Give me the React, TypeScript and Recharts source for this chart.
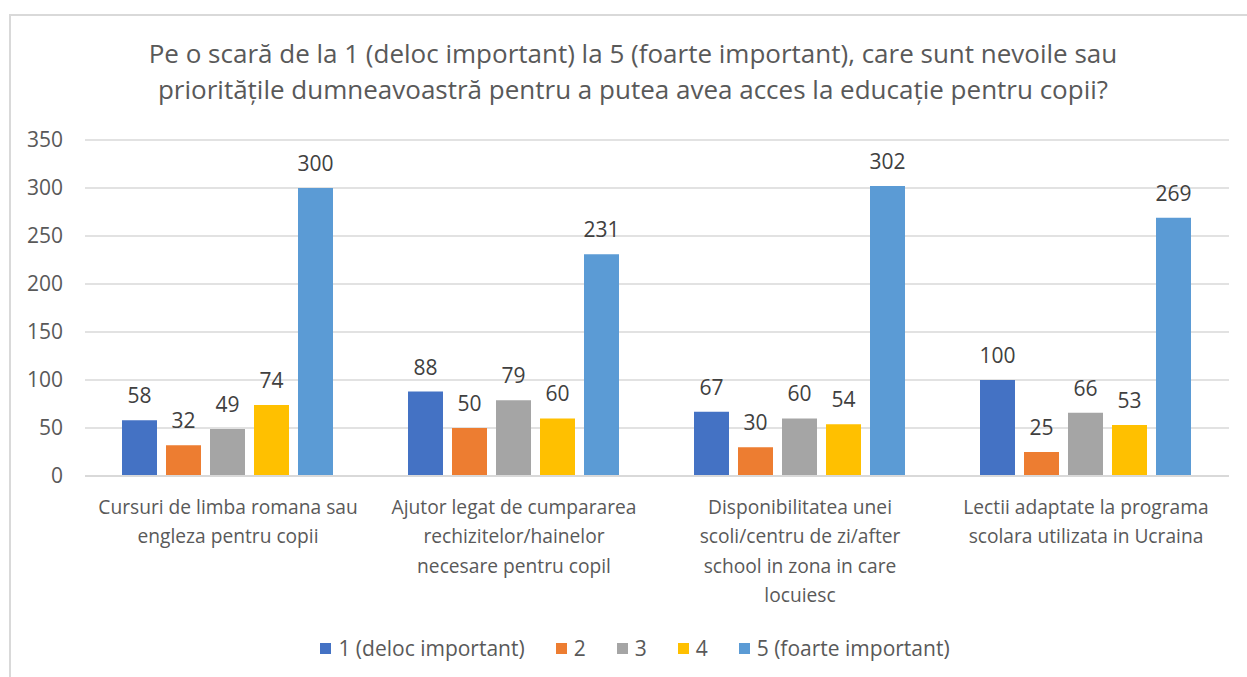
import { Bar, BarChart, CartesianGrid, LabelList, XAxis, YAxis } from 'recharts';

const categories = [
  'Cursuri de limba romana sau engleza pentru copii',
  'Ajutor legat de cumpararea rechizitelor/hainelor necesare pentru copil',
  'Disponibilitatea unei scoli/centru de zi/after school in zona in care locuiesc',
  'Lectii adaptate la programa scolara utilizata in Ucraina',
];
const categoryLines = [
  ['Cursuri de limba romana sau', 'engleza pentru copii'],
  ['Ajutor legat de cumpararea', 'rechizitelor/hainelor', 'necesare pentru copil'],
  ['Disponibilitatea unei', 'scoli/centru de zi/after', 'school in zona in care', 'locuiesc'],
  ['Lectii adaptate la programa', 'scolara utilizata in Ucraina'],
];
const seriesNames = ['1 (deloc important)', '2', '3', '4', '5 (foarte important)'];
const s1 = [58, 88, 67, 100];
const s2 = [32, 50, 30, 25];
const s3 = [49, 79, 60, 66];
const s4 = [74, 60, 54, 53];
const s5 = [300, 231, 302, 269];
const yTicks = [0, 50, 100, 150, 200, 250, 300, 350];
const colors = ['#4472C4', '#ED7D31', '#A5A5A5', '#FFC000', '#5B9BD5'];
const titleLines = [
  'Pe o scară de la 1 (deloc important) la 5 (foarte important), care sunt nevoile sau',
  'prioritățile dumneavoastră pentru a putea avea acces la educație pentru copii?',
];

const seriesValues = [s1, s2, s3, s4, s5];
const keys = ['s1', 's2', 's3', 's4', 's5'];
const data = categories.map((c, i) => {
  const row: Record<string, number | string> = { name: c, idx: i };
  keys.forEach((k, j) => (row[k] = seriesValues[j][i]));
  return row;
});

const FONT = "'Open Sans', sans-serif";
const GREY = '#595959';

function CatTick(props: any) {
  const { x, y, index } = props;
  const lines = categoryLines[index] || [];
  return (
    <text x={x} y={y} textAnchor="middle" fill={GREY} fontSize={19.2} fontFamily={FONT}>
      {lines.map((l, i) => (
        <tspan key={i} x={x} dy={i === 0 ? 30 : 29.3}>
          {l}
        </tspan>
      ))}
    </text>
  );
}

export default function App() {
  return (
    <div style={{ position: 'relative', width: 1247, height: 677, fontFamily: FONT, background: '#fff', overflow: 'hidden' }}>
      <style>{`body{margin:0}`}</style>
      <div
        style={{
          position: 'absolute',
          left: 9,
          top: 14,
          width: 1260,
          height: 700,
          border: '2px solid #D9D9D9',
          boxSizing: 'border-box',
        }}
      />
      <div
        style={{
          position: 'absolute',
          left: 0,
          top: 35,
          width: 1266,
          textAlign: 'center',
          color: GREY,
          fontSize: 26,
          lineHeight: '36px',
          whiteSpace: 'nowrap',
        }}
      >
        {titleLines.map((t, i) => (
          <div key={i}>{t}</div>
        ))}
      </div>
      <div style={{ position: 'absolute', left: 0, top: 0 }}>
        <BarChart
          width={1247}
          height={677}
          data={data}
          margin={{ top: 140, right: 18, bottom: 61, left: 0 }}
          barCategoryGap={37}
          barGap={9}
        >
          <CartesianGrid vertical={false} stroke="#D9D9D9" strokeWidth={1.5} />
          <XAxis
            dataKey="name"
            height={140}
            axisLine={{ stroke: '#D9D9D9', strokeWidth: 2 }}
            tickLine={false}
            interval={0}
            tick={<CatTick />}
          />
          <YAxis
            width={85}
            domain={[0, 350]}
            ticks={yTicks}
            axisLine={false}
            tickLine={false}
            tickMargin={16}
            tick={{ fill: GREY, fontSize: 21, fontFamily: FONT }}
          />
          {keys.map((k, j) => (
            <Bar key={k} dataKey={k} name={seriesNames[j]} fill={colors[j]} isAnimationActive={false}>
              <LabelList
                dataKey={k}
                position="top"
                offset={17}
                fill="#404040"
                fontSize={21}
                fontFamily={FONT}
              />
            </Bar>
          ))}
        </BarChart>
      </div>
      <div
        style={{
          position: 'absolute',
          left: 0,
          top: 634,
          width: 1270,
          display: 'flex',
          justifyContent: 'center',
          gap: 31,
          color: GREY,
          fontSize: 21,
        }}
      >
        {seriesNames.map((n, j) => (
          <div key={n} style={{ display: 'flex', alignItems: 'center', gap: 7 }}>
            <span style={{ display: 'inline-block', width: 11, height: 11, background: colors[j] }} />
            <span>{n}</span>
          </div>
        ))}
      </div>
    </div>
  );
}
